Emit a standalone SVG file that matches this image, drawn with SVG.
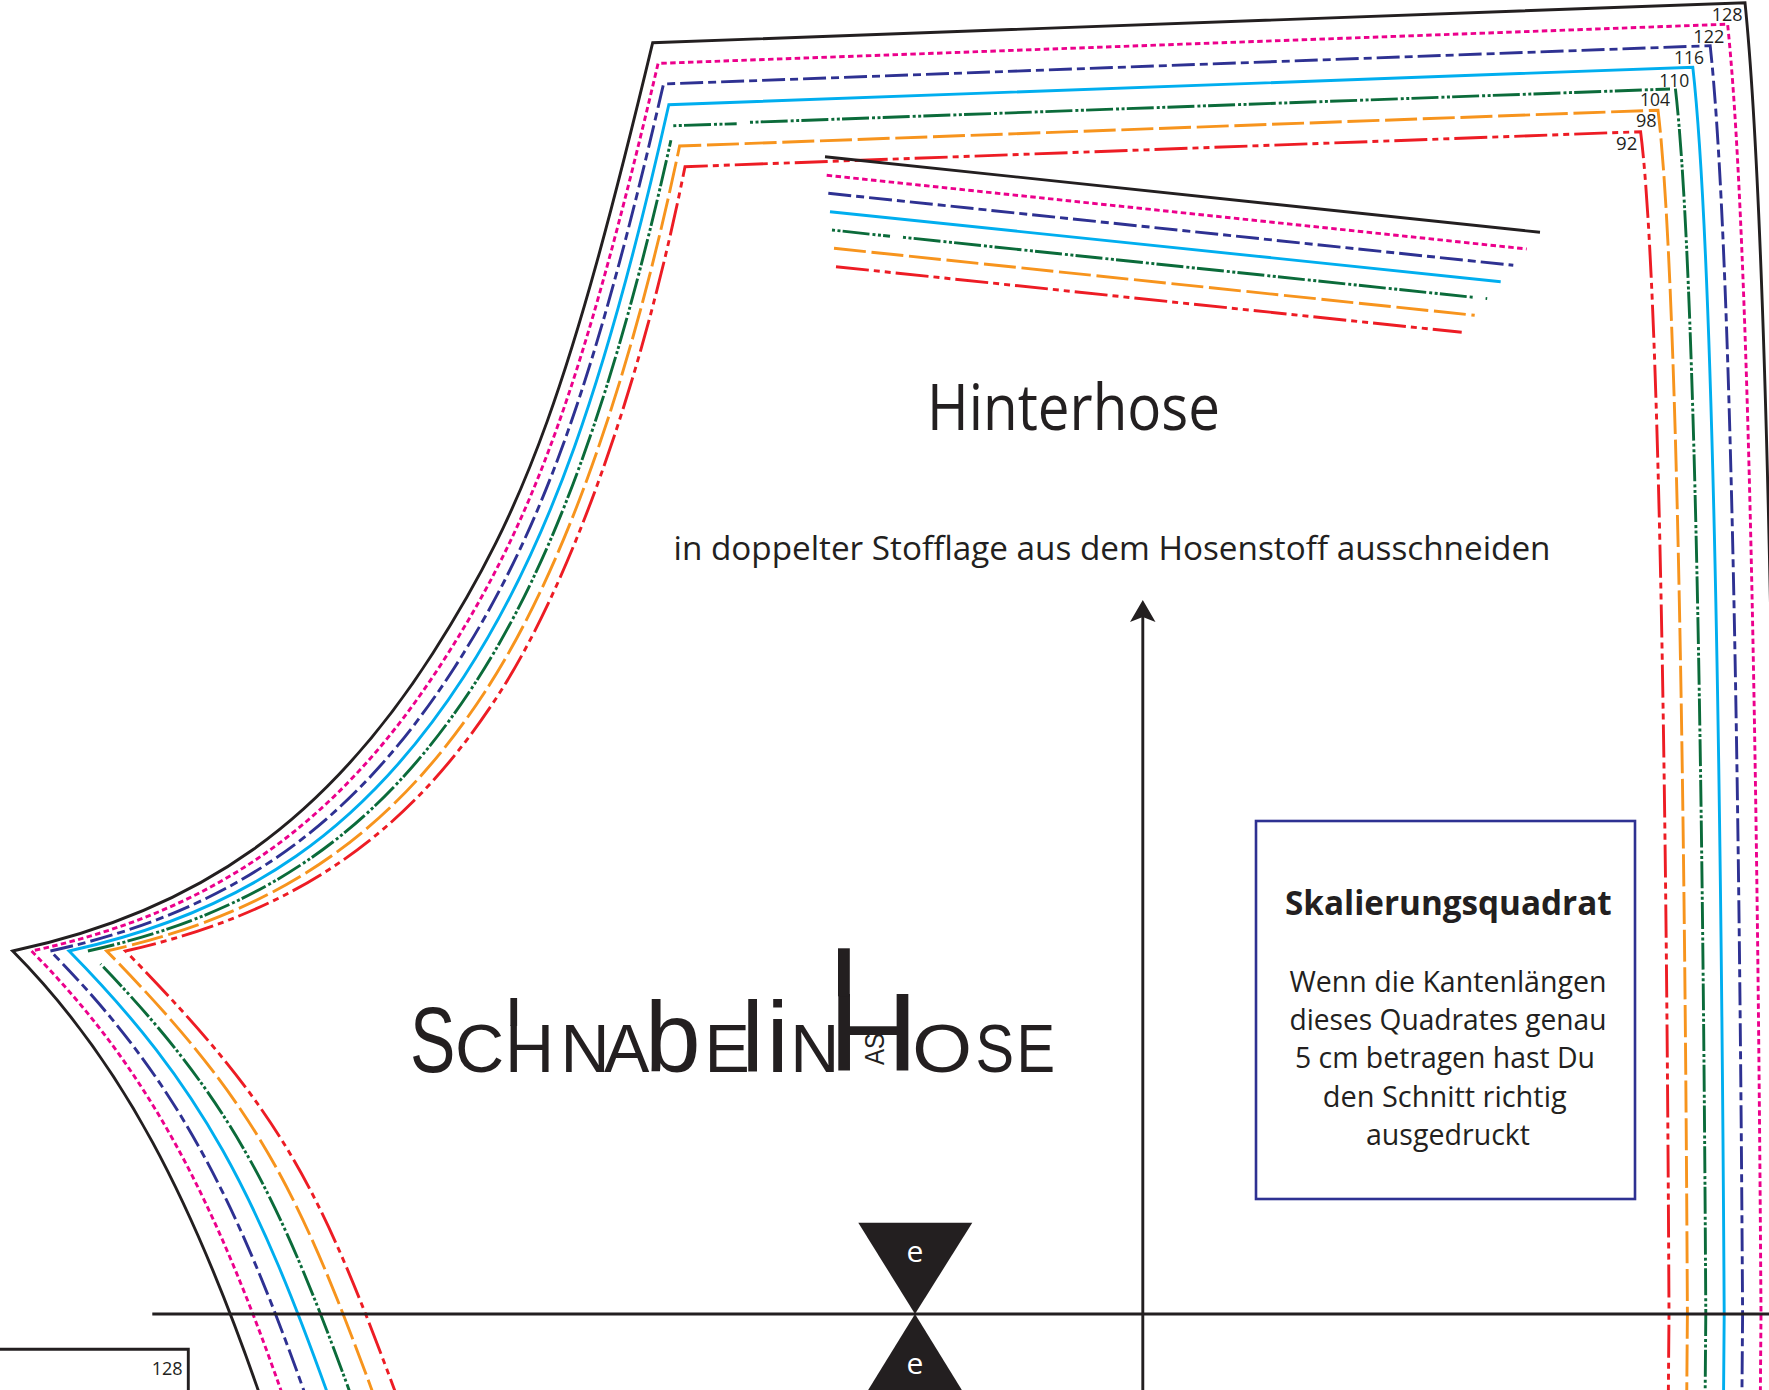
<svg xmlns="http://www.w3.org/2000/svg" width="1769" height="1390" viewBox="0 0 1769 1390">
<style>
.l{fill:none;stroke-width:2.9;stroke-linejoin:miter}
.k{stroke:#231f20}
.p{stroke:#ec008c;stroke-dasharray:5.5 3.4}
.n{stroke:#2e3192;stroke-dasharray:23 5 8 5}
.c{stroke:#00aeef}
.g{stroke:#0b6b3a;stroke-dasharray:27 3 3 2.5 3 2.2}
.o{stroke:#f7941d;stroke-dasharray:32 5.7}
.r{stroke:#ed1c24;stroke-dasharray:33 5 6 5 6 5}
text{font-family:"Open Sans","Noto Sans","Liberation Sans",sans-serif;fill:#231f20}
.num{font-size:19px}
.body{font-size:30px;text-anchor:middle}
.logo{font-family:"Liberation Sans",Arial,sans-serif}
</style>
<rect width="1769" height="1390" fill="#fff"/>
<g id="connectors">
<g id="size-122-pink">
<path class="l p" d="M287.8,1410C214.5,1197.3 148.3,1069 31.5,951C216.2,911.3 339.7,822 443.3,660.8C533.9,520.1 582.5,384.6 658.1,63.4L1727.6,24.2C1747,210 1757,700 1761,1314L1760.3,1400"/>
<path class="l p" d="M826.7,175.3L1526.7,249"/>
</g>
<g id="size-116-navy">
<path class="l n" d="M310.7,1410C235.5,1195.3 175.7,1078 50.3,951C231.6,911.6 352.6,825.1 453.7,668.7C540.9,533.7 594.3,384.7 663.5,84L1710.2,45.7C1729,220 1738.8,700 1742.6,1314L1741.9,1400"/>
<path class="l n" d="M828.3,193.3L1513.3,265.3"/>
</g>
<g id="size-110-cyan">
<path class="l c" d="M333.5,1410C256.6,1193.4 203,1087 69.1,951C247,912 365.5,828.3 464,676.5C548,547.2 606,384.8 668.8,104.7L1692.8,67.2C1711,230 1720.6,700 1724.2,1314L1723.5,1400"/>
<path class="l c" d="M830,211.7L1500.7,281.7"/>
</g>
<g id="size-104-green">
<path class="l g" d="M356.3,1410C280,1198 233.2,1101.9 100.5,964"/>
<path class="l g" d="M87.9,951C262.5,912.3 378.4,831.4 474.3,684.3C553.5,563.1 615.4,391.7 670.9,140.3"/>
<path class="l g" style="stroke-dashoffset:30" d="M673.3,125.7L736.7,123.7"/>
<path class="l g" style="stroke-dashoffset:30" d="M750,122.3L1670,89"/>
<path class="l g" d="M1675.4,88.7C1693,240 1702.4,700 1705.8,1314L1705.1,1400"/>
<path class="l g" style="stroke-dashoffset:30" d="M832,230L890,236.3"/>
<path class="l g" style="stroke-dashoffset:30" d="M903,237.3L1473.3,297.3"/>
<path class="l g" style="stroke-dasharray:none" d="M1485.6,298.4L1487.2,298.6"/>
</g>
<g id="size-98-orange">
<path class="l o" d="M379.2,1410C298.7,1189.4 257.7,1105 106.7,951C277.9,912.6 391.3,834.5 484.7,692.2C562.1,574.3 629.6,385 679.6,146L1658,110.2C1675,250 1684.2,700 1687.4,1314L1686.7,1400"/>
<path class="l o" d="M834,248.3L1474.7,315.3"/>
</g>
<g id="size-92-red">
<path class="l r" d="M402,1410C319.7,1187.4 285,1114 125.5,951C293.4,912.9 404.2,837.6 495,700C569.2,587.8 641.4,385.1 685,166.7L1640.6,131.7C1657,260 1666,700 1669,1314L1668.3,1400"/>
<path class="l r" d="M836,266.7L1461.7,332.3"/>
</g>
<g id="size-128-black">
<path class="l k" d="M265,1410C193.4,1199.3 121,1060 12.7,951C200.7,911 326.8,818.9 433,653C526.8,506.6 570.7,384.5 652.7,42.7L1745,2.7C1765,200 1775.2,700 1779.4,1314"/>
<path class="l k" d="M825,156.7L1540,232.3"/>
</g>
<path id="balance-line" class="l k" d="M152.3,1314H1769"/>
<path id="grain-line" class="l k" d="M1142.8,612V1390"/>
<path id="grain-arrow" d="M1142.8,600L1155.5,622L1142.8,617L1130,622Z" fill="#231f20"/>
</g>
<g id="sizes">
<text class="num" x="1711.7" y="20.7" textLength="31" lengthAdjust="spacingAndGlyphs">128</text>
<text class="num" x="1693.3" y="43.3" textLength="31" lengthAdjust="spacingAndGlyphs">122</text>
<text class="num" x="1674" y="64" textLength="30" lengthAdjust="spacingAndGlyphs">116</text>
<text class="num" x="1659.3" y="86.7" textLength="30" lengthAdjust="spacingAndGlyphs">110</text>
<text class="num" x="1640" y="106" textLength="30" lengthAdjust="spacingAndGlyphs">104</text>
<text class="num" x="1636" y="127.3" textLength="20.7" lengthAdjust="spacingAndGlyphs">98</text>
<text class="num" x="1616" y="150" textLength="21.3" lengthAdjust="spacingAndGlyphs">92</text>
</g>
<g id="title">
<text x="927" y="430" font-size="64" textLength="293" lengthAdjust="spacingAndGlyphs">Hinterhose</text>
<text x="673.5" y="559.6" font-size="33.5" textLength="877" lengthAdjust="spacingAndGlyphs">in doppelter Stofflage aus dem Hosenstoff ausschneiden</text>
</g>
<g id="scale-square">
<rect x="1256" y="821" width="379" height="378" fill="none" stroke="#2e3192" stroke-width="2.6"/>
<text x="1285" y="915" font-size="34.5" font-weight="700" textLength="326.7" lengthAdjust="spacingAndGlyphs">Skalierungsquadrat</text>
<text class="body" x="1448" y="991.7" textLength="317" lengthAdjust="spacingAndGlyphs">Wenn die Kantenlängen</text>
<text class="body" x="1448" y="1030" textLength="317" lengthAdjust="spacingAndGlyphs">dieses Quadrates genau</text>
<text class="body" x="1445" y="1068.3" textLength="300" lengthAdjust="spacingAndGlyphs">5 cm betragen hast Du</text>
<text class="body" x="1444.7" y="1106.7" textLength="244" lengthAdjust="spacingAndGlyphs">den Schnitt richtig</text>
<text class="body" x="1448" y="1145" textLength="164" lengthAdjust="spacingAndGlyphs">ausgedruckt</text>
</g>
<g id="logo">
<text class="logo" transform="scale(.74 1)" x="554" y="1071.7" font-size="92">S</text>
<text class="logo" y="1071.7" font-size="68"><tspan x="455">C</tspan><tspan x="505">H</tspan><tspan x="560.5">N</tspan><tspan x="604">A</tspan><tspan x="645" font-size="100">b</tspan><tspan x="704.6">E</tspan><tspan x="741.4" font-size="100">l</tspan><tspan x="766.4" font-size="100">i</tspan><tspan x="790.3">N</tspan></text>
<rect x="510.4" y="998" width="6.7" height="28" fill="#231f20"/>
<text class="logo" transform="scale(1.12 1)" x="739.2" y="1070.7" font-size="112">H</text>
<rect x="838" y="948.3" width="11.8" height="48" fill="#231f20"/>
<text class="logo" transform="translate(883.6,1065) rotate(-90)" font-size="28" textLength="32" lengthAdjust="spacingAndGlyphs">AS</text>
<text class="logo" transform="scale(1.13 1)" x="807.2" y="1071.7" font-size="68">O</text>
<text class="logo" transform="scale(.85 1)" y="1071.7" font-size="68"><tspan x="1147.6">S</tspan><tspan x="1195.8">E</tspan></text>
</g>
<g id="notch-e">
<polygon points="858.3,1222.7 972.3,1222.7 915,1314" fill="#231f20"/>
<polygon points="915,1314 968,1400 862,1400" fill="#231f20"/>
<text x="915" y="1262.3" font-size="30" text-anchor="middle" style="fill:#fff">e</text>
<text x="915" y="1374" font-size="30" text-anchor="middle" style="fill:#fff">e</text>
</g>
<g id="lower-piece">
<path class="l k" d="M0,1349.3H188.3V1390"/>
<text class="num" x="151.7" y="1375" textLength="31" lengthAdjust="spacingAndGlyphs">128</text>
</g>
</svg>
